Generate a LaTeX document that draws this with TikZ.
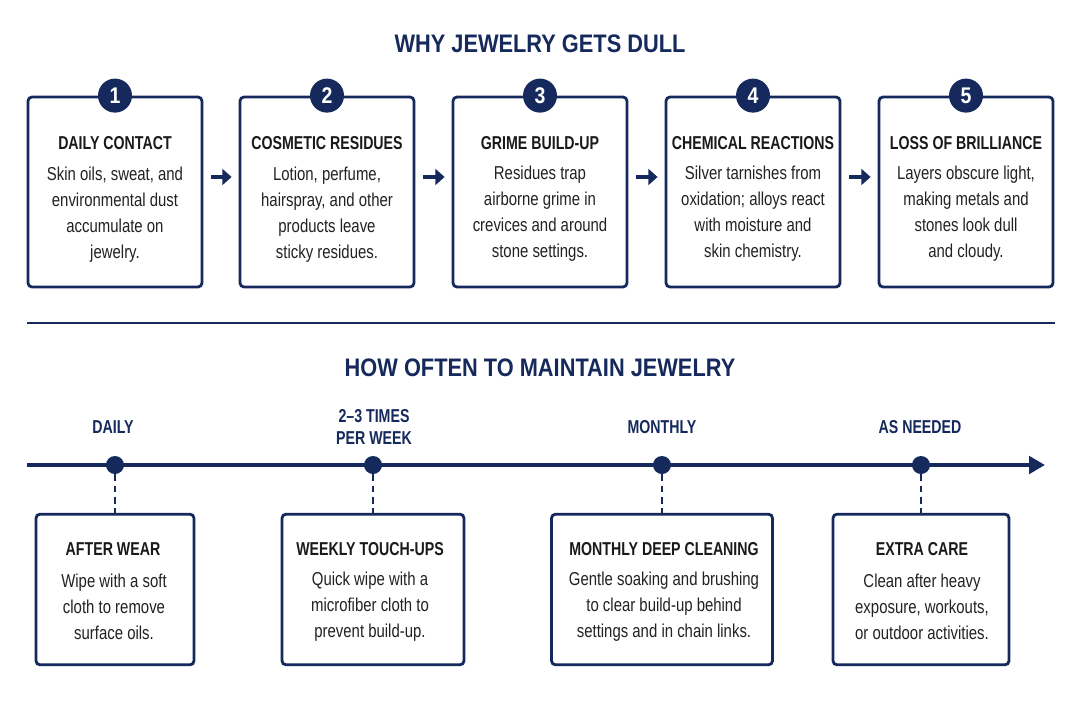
\documentclass[tikz,border=0pt]{standalone}
\usepackage{fontspec}
\setmainfont{Liberation Sans}[FakeStretch=0.8]
\newfontfamily\titlefont{Liberation Sans}[FakeStretch=0.86,Ligatures=TeX]
\newfontfamily\condfont{Liberation Sans}[FakeStretch=0.76,Ligatures=TeX]
\usetikzlibrary{arrows.meta,calc}
\definecolor{navy}{HTML}{15295C}
\definecolor{ink}{HTML}{1A1A1A}
\definecolor{bodyc}{HTML}{222222}
\begin{document}
\begin{tikzpicture}[x=0.75pt,y=-0.75pt,
  card/.style={draw=navy, line width=2.1pt, rounded corners=3pt, fill=white, inner sep=0pt, minimum width=#1},
  topcard/.style={card=130.5pt, minimum height=142.5pt},
  lowcard/.style={card=#1, minimum height=113pt},
  numc/.style={circle, fill=navy, text=white, inner sep=0pt, minimum size=25.5pt, font=\fontsize{17}{17}\selectfont\titlefont\bfseries},
  head/.style={text=ink, inner sep=0pt, font=\fontsize{14}{16}\selectfont\condfont\bfseries},
  bodytxt/.style={text=bodyc, inner sep=0pt, align=center, font=\fontsize{14}{19.5}\selectfont},
  ttl/.style={text=navy, inner sep=0pt, font=\fontsize{19}{22}\selectfont\titlefont\bfseries},
  freq/.style={text=navy, inner sep=0pt, align=center, font=\fontsize{14}{16}\selectfont\condfont\bfseries},
  flow/.style={navy, line width=3.6pt, -{Triangle[length=7pt,width=12pt]}},
  dot/.style={circle, fill=navy, inner sep=0pt, minimum size=13.5pt},
  dashline/.style={navy, line width=1.3pt, dash pattern=on 5pt off 3.5pt}
]
\useasboundingbox[fill=white] (0,0) rectangle (1080,700);

% ---------- top section ----------
\node[ttl] (t1) at (540,44) {WHY JEWELRY GETS DULL};

\foreach \i/\x in {1/115,2/327,3/540,4/753,5/966}{
  \node[topcard] (b\i) at (\x,192) {};
  \node[numc] (n\i) at (b\i.north) {\i};
}
\node[head] (h1) at (115,143) {DAILY CONTACT};
\node[head] (h2) at (327,143) {COSMETIC RESIDUES};
\node[head] (h3) at (540,143) {GRIME BUILD-UP};
\node[head] (h4) at (753,143) {CHEMICAL REACTIONS};
\node[head] (h5) at (966,143) {LOSS OF BRILLIANCE};

\node[bodytxt] (p1) at (115,215) {Skin oils, sweat, and\\environmental dust\\accumulate on\\jewelry.};
\node[bodytxt] (p2) at (327,215) {Lotion, perfume,\\hairspray, and other\\products leave\\sticky residues.};
\node[bodytxt] (p3) at (540,214) {Residues trap\\airborne grime in\\crevices and around\\stone settings.};
\node[bodytxt] (p4) at (753,214) {Silver tarnishes from\\oxidation; alloys react\\with moisture and\\skin chemistry.};
\node[bodytxt] (p5) at (966,214) {Layers obscure light,\\making metals and\\stones look dull\\and cloudy.};

\foreach \a/\b in {b1/b2,b2/b3,b3/b4,b4/b5}{
  \draw[flow] ($(\a.east)+(8,-15)$) -- ($(\b.west)+(-7,-15)$);
}

% separator
\draw[navy, line width=2pt] (27,323) -- (1055,323);

% ---------- bottom section ----------
\node[ttl] (t2) at (540,368) {HOW OFTEN TO MAINTAIN JEWELRY};

\coordinate (tl0) at (27,465);
\coordinate (tl1) at (1045,465);
\draw[navy, line width=3pt, -{Triangle[length=12pt,width=13pt]}] (tl0) -- (tl1);

\node[freq] (f1) at (113,427) {DAILY};
\node[freq] (f2) at (374,427) {2–3 TIMES\\PER WEEK};
\node[freq] (f3) at (662,427) {MONTHLY};
\node[freq] (f4) at (920,427) {AS NEEDED};

\node[dot] (d1) at (115,465) {};
\node[dot] (d2) at (373,465) {};
\node[dot] (d3) at (662,465) {};
\node[dot] (d4) at (921,465) {};

\node[lowcard=118.5pt] (l1) at (115,589.5) {};
\node[lowcard=136.5pt] (l2) at (373,589.5) {};
\node[lowcard=165.75pt] (l3) at (662,589.5) {};
\node[lowcard=132pt] (l4) at (921,589.5) {};

\foreach \i in {1,2,3,4}{
  \draw[dashline] (d\i.south) -- (l\i.north);
}

\node[head] (lh1) at (113,549) {AFTER WEAR};
\node[head] (lh2) at (370,549) {WEEKLY TOUCH-UPS};
\node[head] (lh3) at (664,549) {MONTHLY DEEP CLEANING};
\node[head] (lh4) at (922,549) {EXTRA CARE};

\node[bodytxt] (lp1) at (114,607) {Wipe with a soft\\cloth to remove\\surface oils.};
\node[bodytxt] (lp2) at (370,607) {Quick wipe with a\\microfiber cloth to\\prevent build-up.};
\node[bodytxt] (lp3) at (664,607) {Gentle soaking and brushing\\to clear build-up behind\\settings and in chain links.};
\node[bodytxt] (lp4) at (922,607) {Clean after heavy\\exposure, workouts,\\or outdoor activities.};
\end{tikzpicture}
\end{document}
